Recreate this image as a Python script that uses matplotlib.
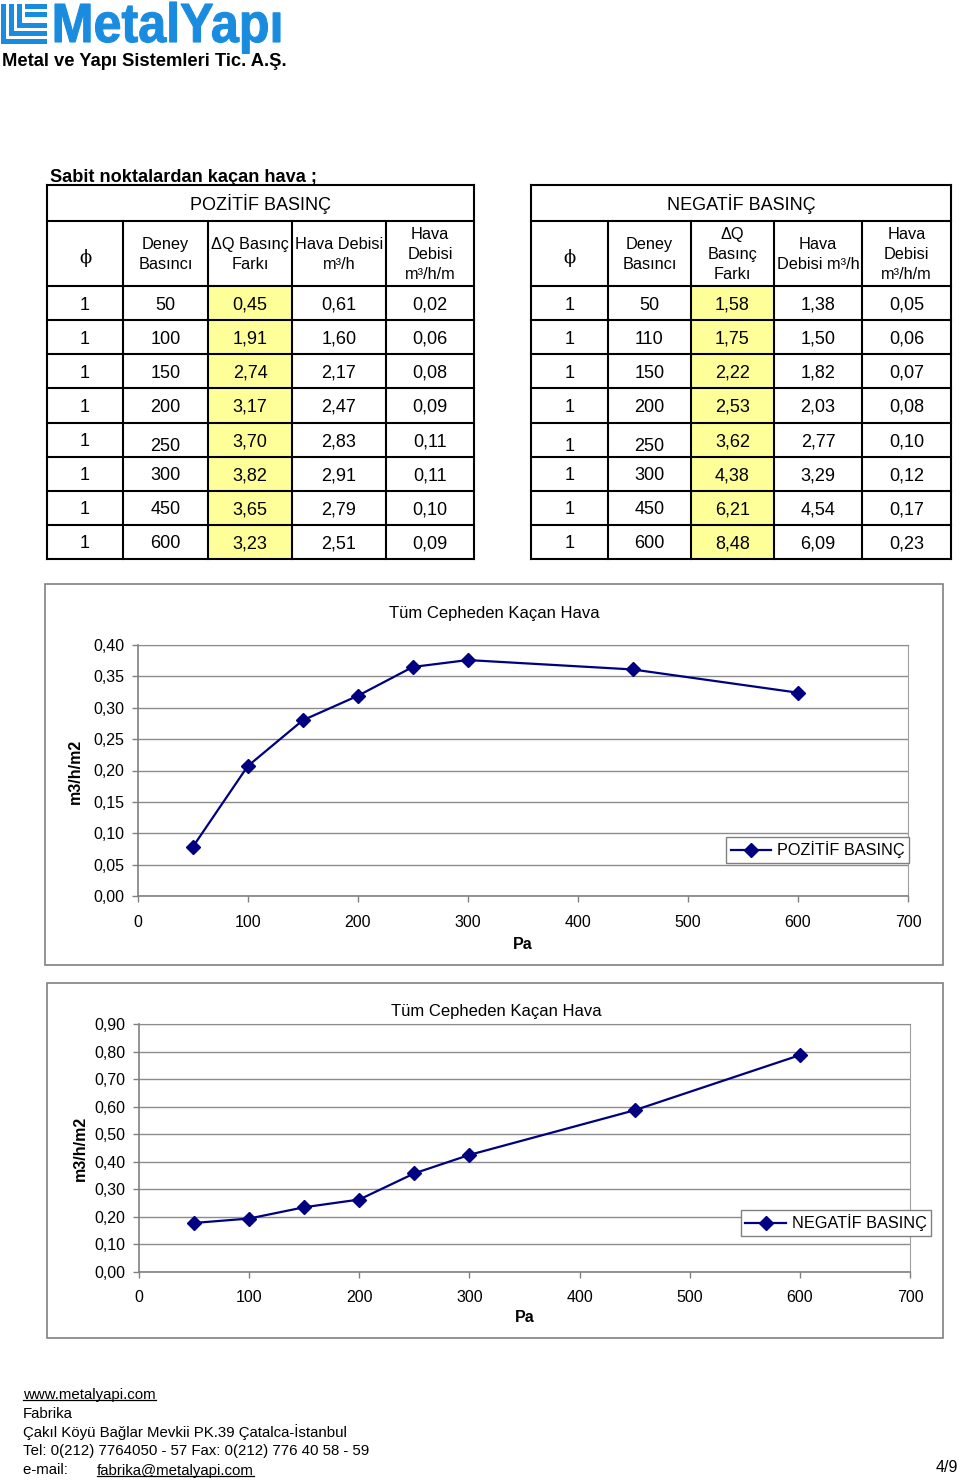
import matplotlib
matplotlib.use('Agg')
import matplotlib.pyplot as plt
from matplotlib.patches import Rectangle, PathPatch, Polygon
from matplotlib.lines import Line2D
from matplotlib.ticker import MultipleLocator, FuncFormatter
from matplotlib.textpath import TextPath
from matplotlib.font_manager import FontProperties
from matplotlib.transforms import Affine2D

plt.rcParams['font.family'] = ['Liberation Sans', 'DejaVu Sans']

# ---------------- data ----------------
pos_phi = ['1', '1', '1', '1', '1', '1', '1', '1']
pos_deney = ['50', '100', '150', '200', '250', '300', '450', '600']
pos_dq = ['0,45', '1,91', '2,74', '3,17', '3,70', '3,82', '3,65', '3,23']
pos_debi = ['0,61', '1,60', '2,17', '2,47', '2,83', '2,91', '2,79', '2,51']
pos_debi_m = ['0,02', '0,06', '0,08', '0,09', '0,11', '0,11', '0,10', '0,09']

neg_phi = ['1', '1', '1', '1', '1', '1', '1', '1']
neg_deney = ['50', '110', '150', '200', '250', '300', '450', '600']
neg_dq = ['1,58', '1,75', '2,22', '2,53', '3,62', '4,38', '6,21', '8,48']
neg_debi = ['1,38', '1,50', '1,82', '2,03', '2,77', '3,29', '4,54', '6,09']
neg_debi_m = ['0,05', '0,06', '0,07', '0,08', '0,10', '0,12', '0,17', '0,23']

pos_headers = ['ϕ', 'Deney\nBasıncı', 'ΔQ Basınç\nFarkı', 'Hava Debisi\nm³/h', 'Hava\nDebisi\nm³/h/m']
neg_headers = ['ϕ', 'Deney\nBasıncı', 'ΔQ\nBasınç\nFarkı', 'Hava\nDebisi m³/h', 'Hava\nDebisi\nm³/h/m']

pressure = [50, 100, 150, 200, 250, 300, 450, 600]
pos_leak = [0.078, 0.207, 0.280, 0.319, 0.365, 0.376, 0.361, 0.324]
neg_leak = [0.178, 0.194, 0.235, 0.263, 0.358, 0.425, 0.587, 0.787]

chart_title = 'Tüm Cepheden Kaçan Hava'
y_label = 'm3/h/m2'
x_label = 'Pa'

footer_lines = ['www.metalyapi.com', 'Fabrika',
                'Çakıl Köyü Bağlar Mevkii PK.39 Çatalca-İstanbul',
                'Tel: 0(212) 7764050 - 57 Fax: 0(212) 776 40 58 - 59']
email = 'fabrika@metalyapi.com'

# ---------------- figure ----------------
W, H = 960, 1480
fig = plt.figure(figsize=(W / 100, H / 100), dpi=100)
fig.patch.set_facecolor('white')


def fx(x):
    return x / W


def fy(y):
    return 1 - y / H


def line(x0, y0, x1, y1, color='black', lw=1.5):
    fig.add_artist(Line2D([fx(x0), fx(x1)], [fy(y0), fy(y1)], transform=fig.transFigure,
                          color=color, lw=lw, solid_capstyle='projecting'))


def rect(x, y, w, h, **kw):
    r = Rectangle((fx(x), fy(y + h)), w / W, h / H, transform=fig.transFigure, **kw)
    fig.add_artist(r)
    return r


def text(x, y, s, **kw):
    return fig.text(fx(x), fy(y), s, **kw)


# ---------------- logo ----------------
BLUE = '#1a8ce0'
fp = FontProperties(family='Liberation Sans', weight='bold')
tp = TextPath((0, 0), 'MetalYapı', size=1, prop=fp)
ext = tp.get_extents()
capext = TextPath((0, 0), 'M', size=1, prop=fp).get_extents()
sx = (280 - 55) / ext.width
sy = (42 - 4) / capext.height
tr = Affine2D().translate(-ext.x0, 0).scale(sx / W, sy / H).translate(fx(55), fy(42)) + fig.transFigure
fig.add_artist(PathPatch(tp, transform=tr, facecolor=BLUE, edgecolor=BLUE, lw=0.8))

# logo mark: nested L shapes with top bars
for (vx, hy) in [(1, 39), (9, 31), (17, 23)]:
    rect(vx, 4, 4.5, hy, facecolor=BLUE, edgecolor='none')
    rect(vx, hy, 47 - vx, 4.5, facecolor=BLUE, edgecolor='none')
rect(25, 4, 22, 4.5, facecolor=BLUE, edgecolor='none')
rect(25, 12, 22, 4.5, facecolor=BLUE, edgecolor='none')

text(2, 60, 'Metal ve Yapı Sistemleri Tic. A.Ş.', fontsize=13.2, fontweight='bold',
     ha='left', va='center_baseline')

# ---------------- tables ----------------
text(50, 175, 'Sabit noktalardan kaçan hava ;', fontsize=13.1, fontweight='bold',
     ha='left', va='center_baseline')

T_TOP, H_TOP, D_TOP, T_BOT = 185, 221, 286, 559
LX = [47, 123, 208, 292, 386, 474]
RX = [531, 608, 691, 774, 862, 951]


def draw_table(xe, title, headers, cols, offsets):
    n = len(cols[0])
    rh = (T_BOT - D_TOP) / n
    rect(xe[2], D_TOP, xe[3] - xe[2], T_BOT - D_TOP, facecolor='#ffff99', edgecolor='none')
    ys = [T_TOP, H_TOP, D_TOP] + [D_TOP + rh * i for i in range(1, n + 1)]
    for y in ys:
        line(xe[0], y, xe[-1], y)
    line(xe[0], T_TOP, xe[0], T_BOT)
    line(xe[-1], T_TOP, xe[-1], T_BOT)
    for x in xe[1:-1]:
        line(x, H_TOP, x, T_BOT)
    text((xe[0] + xe[-1]) / 2, 202, title, fontsize=13,
         ha='center', va='center_baseline')
    for j, h in enumerate(headers):
        cx = (xe[j] + xe[j + 1]) / 2
        if j == 0:
            text(cx, 256, h, fontsize=13, family=['DejaVu Serif'], ha='center', va='center_baseline')
        else:
            text(cx, 254.5, h, fontsize=11.7, ha='center', va='center', multialignment='center',
                 linespacing=1.45)
    for j, col in enumerate(cols):
        cx = (xe[j] + xe[j + 1]) / 2
        for i, v in enumerate(col):
            cy = D_TOP + rh * (i + 0.5) + offsets.get((i, j), 0)
            text(cx, cy, v, fontsize=13, ha='center', va='center_baseline')


draw_table(LX, 'POZİTİF BASINÇ', pos_headers,
           [pos_phi, pos_deney, pos_dq, pos_debi, pos_debi_m], {(4, 1): 5})
draw_table(RX, 'NEGATİF BASINÇ', neg_headers,
           [neg_phi, neg_deney, neg_dq, neg_debi, neg_debi_m], {(4, 0): 5, (4, 1): 5})

# ---------------- charts ----------------
NAVY = '#000080'
comma_fmt = FuncFormatter(lambda v, p: f'{v:.2f}'.replace('.', ','))


def chart(ax_px, box_px, yvals, ymax, ystep, label, title_xy, ylab_xy, pa_xy, leg_xy, xpad, ypad):
    bl, bt, br, bb = box_px
    rect(bl, bt, br - bl, bb - bt, facecolor='white', edgecolor='#808080', lw=1.2, zorder=0)
    l, t, r, b = ax_px
    ax = fig.add_axes([fx(l), fy(b), (r - l) / W, (b - t) / H])
    ax.plot(pressure, yvals, color=NAVY, lw=1.6, marker='D', ms=7, label=label, clip_on=False, zorder=5)
    ax.set_xlim(0, 700)
    ax.set_ylim(0, ymax)
    ax.xaxis.set_major_locator(MultipleLocator(100))
    ax.yaxis.set_major_locator(MultipleLocator(ystep))
    ax.yaxis.set_major_formatter(comma_fmt)
    ax.grid(axis='y', color='#8c8c8c', lw=1)
    ax.set_axisbelow(True)
    for s in ['left', 'bottom']:
        ax.spines[s].set_color('#808080')
        ax.spines[s].set_linewidth(1.2)
    ax.spines['right'].set_color('#a0a0a0')
    ax.spines['top'].set_color('#8c8c8c')
    ax.tick_params(axis='both', direction='out', length=4, width=1, color='#808080',
                   labelsize=11.5, labelcolor='black')
    ax.tick_params(axis='x', pad=xpad)
    ax.tick_params(axis='y', pad=ypad)
    text(title_xy[0], title_xy[1], chart_title, fontsize=12, ha='center', va='center_baseline')
    text(ylab_xy[0], ylab_xy[1], y_label, fontsize=11.5, fontweight='bold', rotation=90,
         ha='center', va='center')
    text(pa_xy[0], pa_xy[1], x_label, fontsize=11.5, fontweight='bold', ha='center', va='center_baseline')
    leg = ax.legend(loc='center', bbox_to_anchor=(fx(leg_xy[0]), fy(leg_xy[1])),
                    bbox_transform=fig.transFigure, fontsize=11.7, frameon=True, fancybox=False,
                    framealpha=1, edgecolor='#808080', borderpad=0.25, handlelength=2.5,
                    handletextpad=0.35, borderaxespad=0)
    leg.get_frame().set_linewidth(1.0)
    return ax


chart((137.7, 645, 908, 896), (45, 584, 943, 965), pos_leak, 0.40, 0.05, 'POZİTİF BASINÇ',
      (494, 612), (75, 771), (523, 943), (817.5, 850), 9.5, 5.5)
chart((139, 1024, 910, 1272), (47, 983, 943, 1338), neg_leak, 0.90, 0.10, 'NEGATİF BASINÇ',
      (496, 1010), (80, 1148), (525, 1316), (836, 1223), 8.7, 6)

# ---------------- footer ----------------
fig.canvas.draw()
renderer = fig.canvas.get_renderer()
FS = 10.8
fys = [1393, 1412, 1431, 1450]
for i, s in enumerate(footer_lines):
    t = text(23, fys[i], s, fontsize=FS, ha='left', va='center_baseline')
    if i == 0:
        bb = t.get_window_extent(renderer)
        line(bb.x0, fys[i] + 6.5, bb.x1, fys[i] + 6.5, lw=0.9)
text(23, 1469, 'e-mail: ', fontsize=FS, ha='left', va='center_baseline')
t = text(97, 1469, email, fontsize=FS, ha='left', va='center_baseline')
bb = t.get_window_extent(renderer)
line(bb.x0, 1475.5, bb.x1, 1475.5, lw=0.9)
text(958, 1466, '4/9', fontsize=11.5, ha='right', va='center_baseline')

fig.savefig('out.png', dpi=100, facecolor='white')
